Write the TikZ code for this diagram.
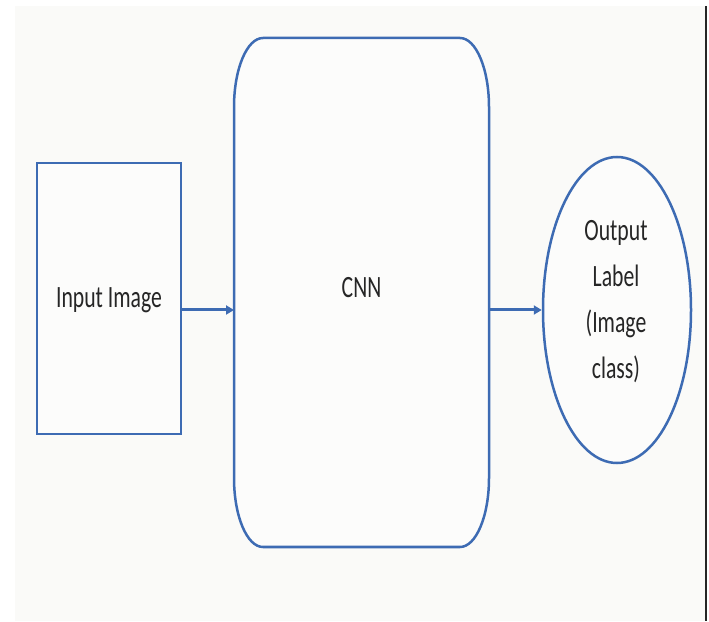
\documentclass[tikz,border=0pt]{standalone}
\usepackage{fontspec}
\usepackage{graphicx}
\setmainfont{Carlito}
\usetikzlibrary{arrows.meta,shapes.geometric}
\definecolor{bg}{HTML}{FAFAF8}
\definecolor{edge}{HTML}{3D6BB3}
\definecolor{ink}{HTML}{262626}
\newcommand{\sq}[1]{\scalebox{0.7}[1]{#1}}
\tikzset{
  boxline/.style={draw=edge, line width=2.5pt},
  lbl/.style={text=ink, font=\fontsize{31}{46}\selectfont, inner sep=0pt},
  flow/.style={draw=edge, line width=3pt, -{Triangle[length=8pt,width=9pt]}}
}
\begin{document}
\begin{tikzpicture}[x=1pt,y=1pt]
\useasboundingbox (0,0) rectangle (709,621);
\fill[white] (0,0) rectangle (709,621);
\fill[bg] (15,0) rectangle (705,615);
\fill[black!85] (705,0) rectangle (707,615);
% input box
\node[boxline, fill=white!40!bg, minimum width=144pt, minimum height=271pt, inner sep=0pt] (inp) at (109,322.5) {};
\node[lbl] (inptxt) at (109,321) {\sq{Input Image}};
% CNN rounded box (elliptical corners)
\coordinate (cnn) at (361.5,328.5);
\draw[boxline, fill=white!40!bg] (263,583) -- (460,583)
  arc[start angle=90, end angle=0, x radius=29, y radius=69] -- (489,143)
  arc[start angle=0, end angle=-90, x radius=29, y radius=69] -- (263,74)
  arc[start angle=270, end angle=180, x radius=29, y radius=69] -- (234,514)
  arc[start angle=180, end angle=90, x radius=29, y radius=69] -- cycle;
\coordinate (cnnW) at (234,311);
\coordinate (cnnE) at (489,311);
\node[lbl] (cnntxt) at (361.5,333) {\sq{CNN}};
% output ellipse
\node[boxline, fill=white!40!bg, ellipse, minimum width=148pt, minimum height=306pt, inner sep=0pt] (out) at (617,311) {};
\node[lbl] (outtxt) at (616,321) {\sq{\begin{tabular}{@{}c@{}}Output\\Label\\(Image\\class)\end{tabular}}};
% arrows
\draw[flow] (inp.east |- cnnW) -- (cnnW);
\draw[flow] (cnnE) -- (out.west);
\end{tikzpicture}
\end{document}
